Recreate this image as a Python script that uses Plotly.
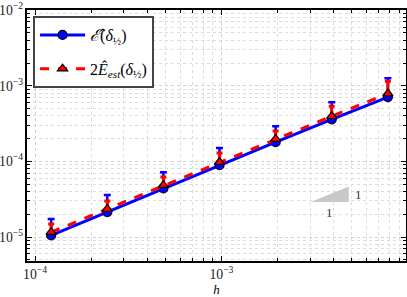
import numpy as np
import plotly.graph_objects as go

# Data
h = [2**-13, 2**-12, 2**-11, 2**-10, 2**-9, 2**-8, 2**-7]
err_true = [1.05e-5, 2.14e-5, 4.4e-5, 8.9e-5, 1.8e-4, 3.6e-4, 7.1e-4]
err_true_upper = [1.73e-5, 3.59e-5, 7.22e-5, 1.50e-4, 2.93e-4, 6.08e-4, 1.26e-3]
err_est = [1.16e-5, 2.35e-5, 4.85e-5, 9.8e-5, 1.98e-4, 3.96e-4, 7.9e-4]
err_est_upper = [1.49e-5, 2.99e-5, 6.21e-5, 1.29e-4, 2.52e-4, 5.38e-4, 1.15e-3]

# slope triangle anchor
tri_h = [3.01e-3, 4.82e-3]
tri_e0 = 2.9e-5

up_true = [u - v for u, v in zip(err_true_upper, err_true)]
up_est = [u - v for u, v in zip(err_est_upper, err_est)]

serif = "Liberation Serif, DejaVu Serif, Times New Roman, serif"

fig = go.Figure()

# slope triangle
tri_e1 = tri_e0 * tri_h[1] / tri_h[0]
fig.add_trace(go.Scatter(
    x=[tri_h[0], tri_h[1], tri_h[1], tri_h[0]],
    y=[tri_e0, tri_e0, tri_e1, tri_e0],
    fill="toself", fillcolor="#c8c8c8", line=dict(width=0, color="#c8c8c8"),
    mode="lines", showlegend=False, hoverinfo="skip"))

fig.add_trace(go.Scatter(
    x=h, y=err_true, mode="lines+markers", legendgroup="a",
    name="<i>ℰ̂</i>(<i>δ</i><sub>½</sub>)",
    line=dict(color="#0000ff", width=3),
    marker=dict(symbol="circle", size=9, color="#0000ff", line=dict(color="black", width=1.2)),
    error_y=dict(type="data", array=up_true, arrayminus=[0]*len(h), symmetric=False,
                 color="#0000ff", thickness=2.5, width=3.5)))

fig.add_trace(go.Scatter(
    x=h, y=err_est, mode="lines+markers", legendgroup="b",
    name="2<i>Ê</i><sub><i>est</i></sub>(<i>δ</i><sub>½</sub>)",
    line=dict(color="#ff0000", width=3, dash="dash"),
    marker=dict(symbol="triangle-up", size=9, color="#ff0000", line=dict(color="black", width=1.2)),
    error_y=dict(type="data", array=up_est, arrayminus=[0]*len(h), symmetric=False,
                 color="#ff0000", thickness=3, width=3)))

fig.add_annotation(x=np.log10(tri_h[1]), y=np.log10(np.sqrt(tri_e0 * tri_e1)), text="1",
                   showarrow=False, xanchor="left", xshift=4,
                   font=dict(family=serif, size=13, color="#333"))
fig.add_annotation(x=np.log10(np.sqrt(tri_h[0] * tri_h[1])), y=np.log10(tri_e0), text="1",
                   showarrow=False, yanchor="top", yshift=-1,
                   font=dict(family=serif, size=13, color="#333"))

axis_common = dict(
    type="log", showline=True, linecolor="black", linewidth=1.5, mirror="allticks",
    ticks="inside", ticklen=5, tickcolor="black", dtick=1, automargin=False,
    exponentformat="power", showexponent="all",
    showgrid=True, gridcolor="#d0d0d0", griddash="dot", gridwidth=1,
    zeroline=False, tickfont=dict(family=serif, size=11, color="#222"),
    minor=dict(ticks="inside", ticklen=3, tickcolor="black", showgrid=True,
               gridcolor="#dcdcdc", griddash="dot", gridwidth=1),
)

fig.update_xaxes(range=[-4.043, -2.01], title=dict(text="<i>h</i>", font=dict(family=serif, size=13)),
                 **axis_common)
fig.update_yaxes(range=[-5.317, -1.997], ticklabelstandoff=0, **axis_common)

fig.update_layout(
    width=407, height=297,
    margin=dict(l=27, r=1, t=10, b=36),
    paper_bgcolor="white", plot_bgcolor="white",
    font=dict(family=serif, size=13, color="black"),
    legend=dict(x=0.016, y=0.976, xanchor="left", yanchor="top",
                bgcolor="white", bordercolor="#444", borderwidth=2,
                tracegroupgap=10, itemwidth=45,
                font=dict(family=serif, size=16)),
)

fig.write_html("out.html", config={"displayModeBar": False},
               post_script="document.body.style.margin='0';document.body.style.padding='0';")
